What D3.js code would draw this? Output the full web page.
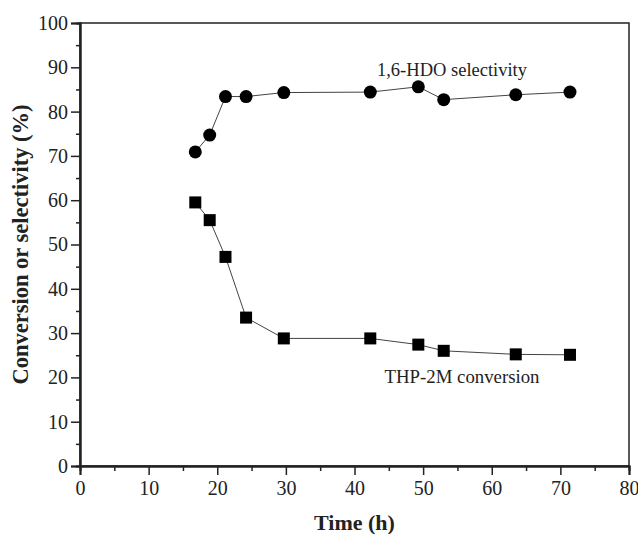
<!DOCTYPE html>
<html>
<head>
<meta charset="utf-8">
<script src="https://cdn.jsdelivr.net/npm/d3@7"></script>
<style>
  body { margin: 0; background: #fff; }
  svg text { font-family: "Liberation Serif", "Times New Roman", serif; fill: #222; }
</style>
</head>
<body>
<div id="chart"></div>
<script>
// time on stream (h)
const timeHdo = [16.8, 18.9, 21.2, 24.2, 29.7, 42.3, 49.3, 53.0, 63.5, 71.4];
const hdoSelectivity = [70.9, 74.7, 83.4, 83.4, 84.3, 84.4, 85.6, 82.7, 83.8, 84.4];
const timeThp = [16.8, 18.9, 21.2, 24.2, 29.7, 42.3, 49.3, 53.0, 63.5, 71.4];
const thpConversion = [59.5, 55.5, 47.2, 33.5, 28.8, 28.8, 27.4, 26.0, 25.2, 25.1];
const xTicks = [0, 10, 20, 30, 40, 50, 60, 70, 80];
const yTicks = [0, 10, 20, 30, 40, 50, 60, 70, 80, 90, 100];

const width = 638, height = 534;
const margin = { top: 23, right: 9, bottom: 68, left: 80 };

const svg = d3.select("#chart").append("svg")
    .attr("width", width)
    .attr("height", height);

const x = d3.scaleLinear().domain([0, 80]).range([margin.left, width - margin.right]);
const y = d3.scaleLinear().domain([0, 100]).range([height - margin.bottom, margin.top]);

// frame (top and right)
svg.append("rect")
    .attr("x", x(0)).attr("y", y(100))
    .attr("width", x(80) - x(0)).attr("height", y(0) - y(100))
    .attr("fill", "none").attr("stroke", "#222").attr("stroke-width", 1.5);

// x axis
const xAxis = svg.append("g").attr("transform", `translate(0,${y(0)})`);
xAxis.call(d3.axisBottom(x).tickValues(xTicks).tickSize(9).tickPadding(6));
xAxis.append("g").call(d3.axisBottom(x).tickValues(d3.range(5, 80, 10)).tickSize(5).tickFormat(""));

// y axis
const yAxis = svg.append("g").attr("transform", `translate(${x(0)},0)`);
yAxis.call(d3.axisLeft(y).tickValues(yTicks).tickSize(9).tickPadding(3));
yAxis.append("g").call(d3.axisLeft(y).tickValues(d3.range(5, 100, 10)).tickSize(4).tickFormat(""));

svg.selectAll(".domain").attr("stroke", "#222").attr("stroke-width", 2);
svg.selectAll(".tick line").attr("stroke", "#222").attr("stroke-width", 1.5);
svg.selectAll(".tick text")
    .attr("fill", "#222")
    .style("font-size", "20px")
    .style("font-family", "'Liberation Serif', serif");

// axis titles
svg.append("text")
    .attr("x", (x(0) + x(80)) / 2).attr("y", 530)
    .attr("text-anchor", "middle")
    .style("font-size", "22px").attr("font-weight", "bold")
    .text("Time (h)");

svg.append("text")
    .attr("transform", `translate(28,${(y(0) + y(100)) / 2}) rotate(-90)`)
    .attr("text-anchor", "middle")
    .style("font-size", "22.5px").attr("font-weight", "bold")
    .text("Conversion or selectivity (%)");

const line = d3.line().x(d => x(d[0])).y(d => y(d[1]));
const hdo = timeHdo.map((t, i) => [t, hdoSelectivity[i]]);
const thp = timeThp.map((t, i) => [t, thpConversion[i]]);

[hdo, thp].forEach(series => {
    svg.append("path")
        .attr("d", line(series))
        .attr("fill", "none")
        .attr("stroke", "#444")
        .attr("stroke-width", 1);
});

svg.selectAll(".circ").data(hdo).enter().append("circle")
    .attr("cx", d => x(d[0])).attr("cy", d => y(d[1]))
    .attr("r", 6.5).attr("fill", "#000");

svg.selectAll(".sq").data(thp).enter().append("rect")
    .attr("x", d => x(d[0]) - 6).attr("y", d => y(d[1]) - 6)
    .attr("width", 12).attr("height", 12).attr("fill", "#000");

// series labels
svg.append("text")
    .attr("x", 452).attr("y", 76)
    .attr("text-anchor", "middle").style("font-size", "18.5px")
    .text("1,6-HDO selectivity");

svg.append("text")
    .attr("x", 462).attr("y", 383)
    .attr("text-anchor", "middle").style("font-size", "18.8px")
    .text("THP-2M conversion");
</script>
</body>
</html>
